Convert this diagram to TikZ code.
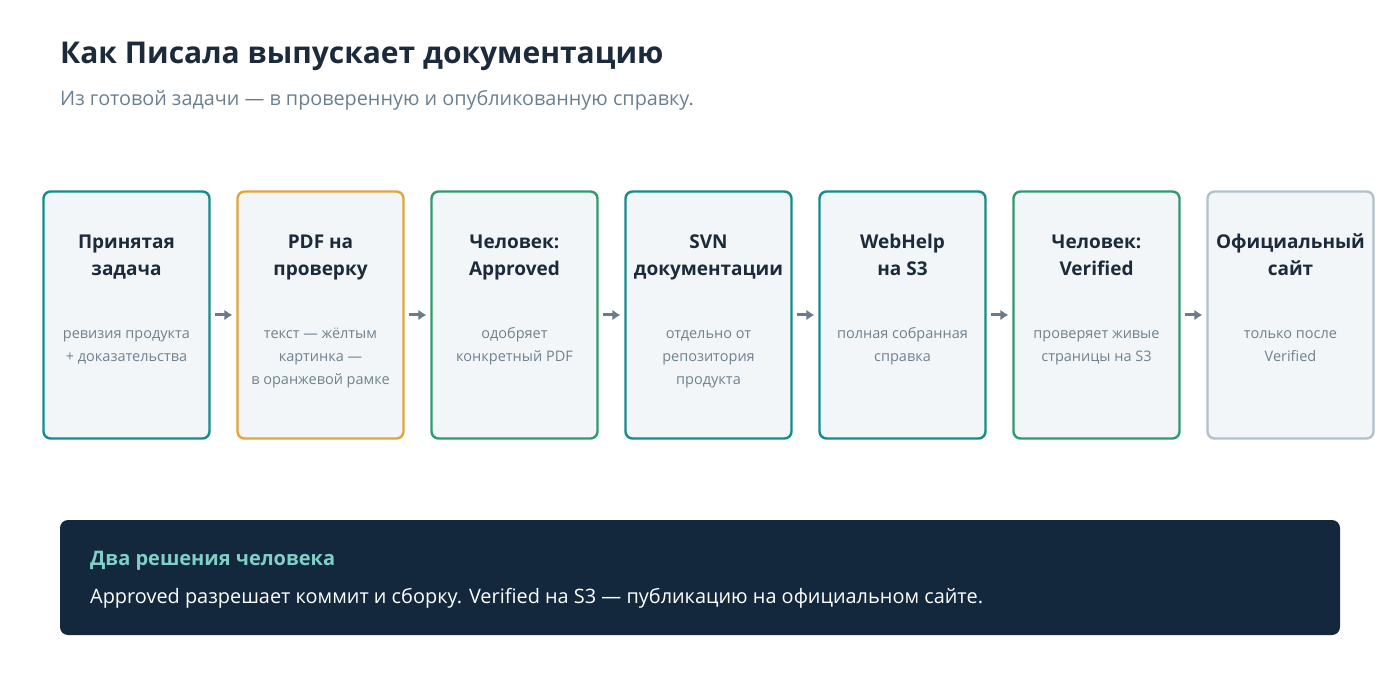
\documentclass[tikz,border=0pt]{standalone}
\usepackage{fontspec}
\setmainfont{Open Sans}
\newcommand\semib{\bfseries}
\usetikzlibrary{arrows.meta}
\definecolor{ink}{HTML}{1B2B3B}
\definecolor{sub}{HTML}{6A8092}
\definecolor{desc}{HTML}{6F8290}
\definecolor{cteal}{HTML}{168A8C}
\definecolor{corange}{HTML}{E0A53C}
\definecolor{cgreen}{HTML}{2F9A6C}
\definecolor{cgrey}{HTML}{B0C1CC}
\definecolor{boxfill}{HTML}{F2F6F8}
\definecolor{arrowc}{HTML}{6B7B8A}
\definecolor{panel}{HTML}{13283D}
\definecolor{mint}{HTML}{80D0C6}
\tikzset{
  x=1pt,y=-1pt,
  stage/.style={draw=#1,line width=2.4pt,fill=boxfill,rounded corners=7pt,minimum width=166pt,minimum height=247pt,inner sep=0pt},
  ttl/.style={font=\semib\fontsize{19}{26.5}\selectfont,text=ink,align=center},
  dsc/.style={font=\fontsize{14.5}{23}\selectfont,text=desc,align=center},
  flow/.style={draw=arrowc,line width=3pt,-{Latex[length=8pt,width=11pt]}}
}
\begin{document}
\begin{tikzpicture}
\useasboundingbox (0,0) rectangle (1400,700);
\node[anchor=west,inner sep=0pt,font=\semib\fontsize{30}{36}\selectfont,text=ink] (title) at (60,56) {Как Писала выпускает документацию};
\node[anchor=west,inner sep=0pt,font=\fontsize{19.8}{24}\selectfont,text=sub] (subtitle) at (60,100) {Из готовой задачи — в проверенную и опубликованную справку.};
\foreach \i/\c/\t/\d in {
 1/cteal/{Принятая\\задача}/{ревизия продукта\\+ доказательства},
 2/corange/{PDF на\\проверку}/{текст — жёлтым\\картинка —\\в оранжевой рамке},
 3/cgreen/{Человек:\\Approved}/{одобряет\\конкретный PDF},
 4/cteal/{SVN\\документации}/{отдельно от\\репозитория\\продукта},
 5/cteal/{WebHelp\\на S3}/{полная собранная\\справка},
 6/cgreen/{Человек:\\Verified}/{проверяет живые\\страницы на S3},
 7/cgrey/{Официальный\\сайт}/{только после\\Verified}}{
  \node[stage=\c] (b\i) at ({126.5+194*(\i-1)},315) {};
  \node[ttl,anchor=north] (t\i) at ({126.5+194*(\i-1)},227) {\vphantom{ЙЁ}\t};
  \node[dsc,anchor=north] (d\i) at ({126.5+194*(\i-1)},322) {\vphantom{ЙЁ}\d};
}
\foreach \i [evaluate=\i as \j using int(\i+1)] in {1,...,6}{
  \draw[flow] ([xshift=4pt]b\i.east) -- ([xshift=-4pt]b\j.west);
}
\node[fill=panel,rounded corners=8pt,minimum width=1280pt,minimum height=115pt,inner sep=0pt] (panel) at (700,577.5) {};
\node[anchor=west,inner sep=0pt,font=\semib\fontsize{20}{24}\selectfont,text=mint] (ptitle) at (90,561) {Два решения человека};
\node[anchor=west,inner sep=0pt,font=\fontsize{19.9}{24}\selectfont,text=white] (pbody) at (90,598) {Approved разрешает коммит и сборку. Verified на S3 — публикацию на официальном сайте.};
\end{tikzpicture}
\end{document}
